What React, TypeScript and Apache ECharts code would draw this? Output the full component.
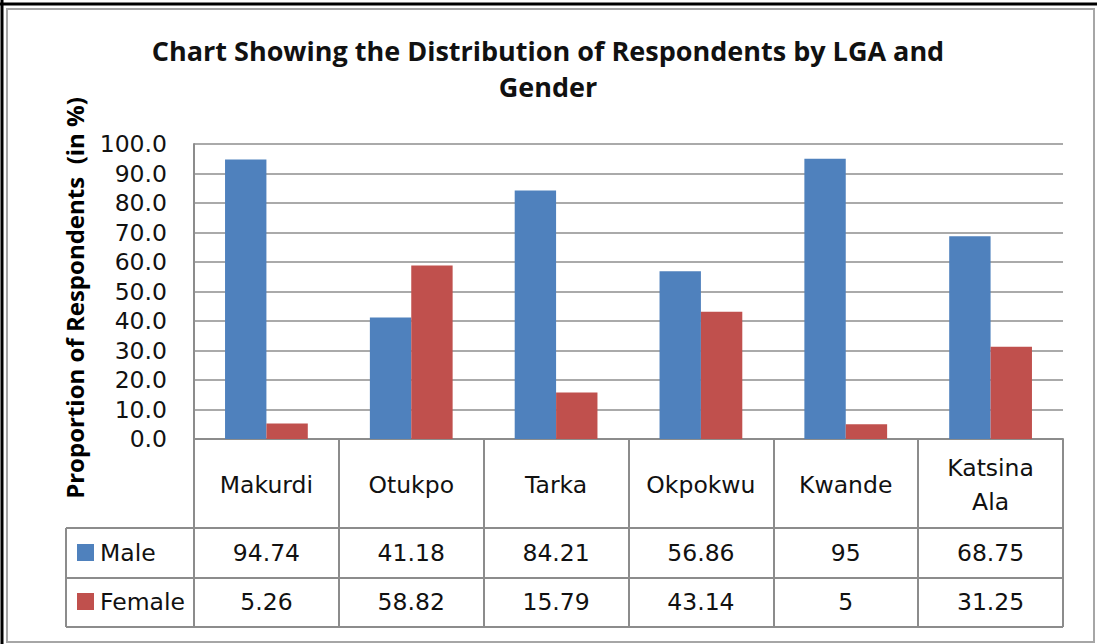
import React, { useEffect, useRef } from "react";
import * as echarts from "echarts";

const titleText = "Chart Showing the Distribution of Respondents by LGA and\nGender";
const yAxisTitle = "Proportion of Respondents  (in %)";
const categories = ["Makurdi", "Otukpo", "Tarka", "Okpokwu", "Kwande", "Katsina\nAla"];
const seriesNames = ["Male", "Female"];
const maleValues = [94.74, 41.18, 84.21, 56.86, 95, 68.75];
const femaleValues = [5.26, 58.82, 15.79, 43.14, 5, 31.25];
const seriesColors = ["#4F81BD", "#C0504D"];

export default function App() {
  const ref = useRef<HTMLDivElement>(null);
  useEffect(() => {
    const chart = echarts.init(ref.current!, null, { renderer: "svg" });
    const W = 1097, H = 644;
    const L = 194, R = 1063, T = 144, B = 439;
    const rowTops = [528, 578, 627];
    const tableLeft = 66;
    const lineColor = "#8c8c8c";
    const txtFont = "DejaVu Sans";
    const fs = 23.5;
    chart.setOption({
      animation: false,
      backgroundColor: "#ffffff",
      grid: { left: L, right: W - R, top: T, bottom: H - B, containLabel: false },
      xAxis: {
        type: "category",
        data: categories,
        axisLine: { show: true, lineStyle: { color: lineColor, width: 2 } },
        axisTick: { show: true, length: rowTops[2] - B, interval: 0, lineStyle: { color: lineColor, width: 2 } },
        axisLabel: {
          interval: 0,
          margin: 46,
          verticalAlign: "middle",
          lineHeight: 34,
          fontFamily: txtFont,
          fontSize: fs,
          color: "#111",
        },
        splitLine: { show: false },
      },
      yAxis: {
        type: "value",
        min: 0,
        max: 100,
        interval: 10,
        axisLine: { show: true, lineStyle: { color: lineColor, width: 2 } },
        axisTick: { show: false },
        axisLabel: {
          margin: 27,
          fontFamily: txtFont,
          fontSize: fs,
          color: "#111",
          formatter: (v: number) => v.toFixed(1),
        },
        splitLine: { show: true, lineStyle: { color: "#8e8e8e", width: 1.5 } },
      },
      series: [
        {
          name: seriesNames[0],
          type: "bar",
          data: maleValues,
          itemStyle: { color: seriesColors[0] },
          barGap: "0%",
          barCategoryGap: "42.86%",
        },
        {
          name: seriesNames[1],
          type: "bar",
          data: femaleValues,
          itemStyle: { color: seriesColors[1] },
          barGap: "0%",
          barCategoryGap: "42.86%",
        },
      ],
    });

    const centers = categories.map((_, i) => chart.convertToPixel({ xAxisIndex: 0 }, i) as number);
    const rows = [maleValues, femaleValues];
    const rowCenters = [553, 602];
    const graphics: any[] = [
      // outer frames
      { type: "line", shape: { x1: 2, y1: 0, x2: 2, y2: H }, style: { stroke: "#000", lineWidth: 3 }, silent: true },
      { type: "line", shape: { x1: 0, y1: 4, x2: W, y2: 4 }, style: { stroke: "#000", lineWidth: 3 }, silent: true },
      { type: "rect", shape: { x: 7, y: 9, width: 1087, height: 633 }, style: { fill: "none", stroke: "#a6a6a6", lineWidth: 2 }, silent: true },
      // title
      {
        type: "text",
        x: 548,
        y: 68,
        style: {
          text: titleText,
          font: "bold 27px 'Open Sans'",
          fill: "#111",
          align: "center",
          verticalAlign: "middle",
          lineHeight: 36,
        },
      },
      // y axis title
      {
        type: "text",
        x: 74,
        y: 298,
        rotation: Math.PI / 2,
        style: {
          text: yAxisTitle,
          font: "bold 24px 'Open Sans'",
          fill: "#000",
          align: "center",
          verticalAlign: "middle",
        },
      },
      // table lines
      ...rowTops.map((y) => ({
        type: "line",
        shape: { x1: tableLeft, y1: y, x2: R, y2: y },
        style: { stroke: lineColor, lineWidth: 2 },
        silent: true,
      })),
      {
        type: "line",
        shape: { x1: tableLeft, y1: rowTops[0], x2: tableLeft, y2: rowTops[2] },
        style: { stroke: lineColor, lineWidth: 2 },
        silent: true,
      },
    ];
    rows.forEach((vals, r) => {
      graphics.push({
        type: "rect",
        shape: { x: 77, y: rowCenters[r] - 9, width: 17, height: 17 },
        style: { fill: seriesColors[r] },
      });
      graphics.push({
        type: "text",
        x: 100,
        y: rowCenters[r],
        style: {
          text: seriesNames[r],
          font: `${fs}px '${txtFont}'`,
          fill: "#111",
          align: "left",
          verticalAlign: "middle",
        },
      });
      vals.forEach((v, i) => {
        graphics.push({
          type: "text",
          x: centers[i],
          y: rowCenters[r],
          style: {
            text: String(v),
            font: `${fs}px '${txtFont}'`,
            fill: "#111",
            align: "center",
            verticalAlign: "middle",
          },
        });
      });
    });
    chart.setOption({ graphic: graphics });
    return () => chart.dispose();
  }, []);
  return (
    <div
      ref={ref}
      style={{ position: "absolute", left: 0, top: 0, width: 1097, height: 644, background: "#fff" }}
    />
  );
}
